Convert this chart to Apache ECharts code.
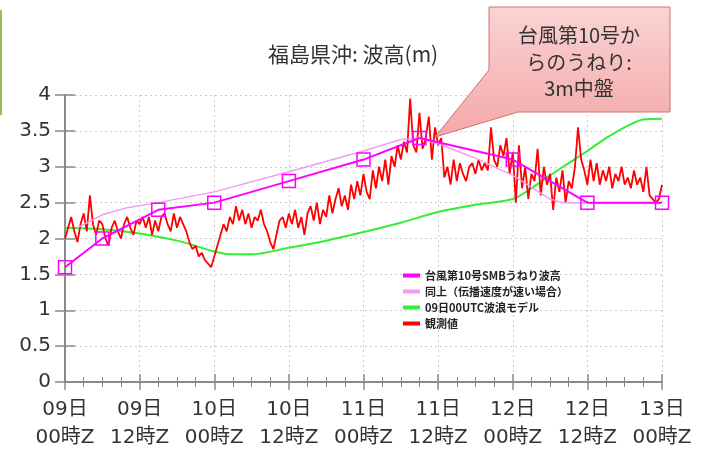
<!DOCTYPE html>
<html><head><meta charset="utf-8">
<script src="https://cdn.jsdelivr.net/npm/echarts@6/dist/echarts.min.js"></script>
<style>html,body{margin:0;padding:0;background:#fff}#c{width:701px;height:462px}</style>
</head><body><div id="c"></div>
<script>
// ---- data (hours since 09日00時Z) ----
const xTickLabels = ['09日\n00時Z','09日\n12時Z','10日\n00時Z','10日\n12時Z','11日\n00時Z','11日\n12時Z','12日\n00時Z','12日\n12時Z','13日\n00時Z'];
const smbHours  = [0, 6, 15, 24, 36, 48, 57, 72, 84, 96];
const smbValues = [1.6, 2.0, 2.4, 2.5, 2.8, 3.1, 3.4, 3.1, 2.5, 2.5];
const fastHours  = [2, 6, 10, 15, 24, 36, 48, 54, 57, 60, 66, 72, 78, 80, 96];
const fastValues = [2.15, 2.33, 2.43, 2.5, 2.65, 2.93, 3.22, 3.38, 3.4, 3.32, 3.12, 2.88, 2.55, 2.5, 2.5];
const modelHours  = [0, 6, 12, 18, 24, 27, 30, 36, 42, 48, 54, 60, 66, 72, 75, 78, 81, 84, 87, 90, 93, 96];
const modelValues = [2.15, 2.13, 2.07, 1.97, 1.82, 1.78, 1.78, 1.87, 1.97, 2.09, 2.22, 2.37, 2.47, 2.55, 2.7, 2.88, 3.05, 3.22, 3.4, 3.55, 3.66, 3.67];
// observed, every 0.5 h from 0 to 96 h
const obsValues = [
  2.0,2.15,2.3,2.1,1.95,2.2,2.35,2.1,2.6,2.2,2.05,2.25,2.2,2.0,1.9,2.15,2.25,2.1,2.0,2.2,2.3,2.15,2.05,2.25,2.2,
  2.3,2.15,2.3,2.05,2.25,2.1,2.3,2.35,2.2,2.1,2.35,2.15,2.3,2.2,2.1,1.95,1.85,1.9,1.75,1.8,1.7,1.65,1.6,1.75,
  1.9,2.05,2.2,2.1,2.3,2.2,2.45,2.25,2.4,2.2,2.35,2.15,2.3,2.25,2.4,2.2,2.1,1.95,1.85,2.05,2.25,2.3,2.15,2.35,
  2.2,2.4,2.15,2.3,2.05,2.35,2.45,2.25,2.5,2.2,2.4,2.3,2.6,2.35,2.55,2.7,2.45,2.6,2.4,2.75,2.55,2.8,2.6,2.9,
  2.65,2.55,2.95,2.7,3.0,2.8,3.1,2.75,3.15,3.0,3.3,3.1,3.35,3.2,3.95,3.3,3.2,3.75,3.25,3.4,3.7,3.1,3.55,3.3,
  3.4,2.85,3.0,2.75,3.1,2.8,3.05,2.9,2.8,3.0,3.05,2.9,3.1,2.95,3.05,2.95,3.55,3.1,3.0,3.3,3.15,3.4,2.9,3.2,
  2.5,3.3,2.7,3.0,2.55,2.9,2.8,3.25,2.6,3.0,2.75,2.9,2.4,2.85,2.65,2.95,2.5,2.8,2.7,3.0,3.55,3.1,2.95,2.75,
  3.1,2.8,3.05,2.75,2.95,2.8,3.0,2.7,2.9,2.8,3.0,2.75,2.85,2.7,2.95,2.75,2.85,2.65,3.0,2.6,2.55,2.5,2.55,2.75];
const obsHours = obsValues.map((v,i)=>i*0.5);
const legendNames = ['台風第10号SMBうねり波高','同上（伝播速度が速い場合）','09日00UTC波浪モデル','観測値'];
const legendColors = ['#ff00ff','#f09cf0','#33ee33','#ff0000'];
const titleText = '福島県沖: 波高(m)';
const calloutLines = ['台風第10号か','らのうねり:','3m中盤'];

const zip = (a,b)=>a.map((x,i)=>[x,b[i]]);
const chart = echarts.init(document.getElementById('c'));
const axisGray = '#8a8a8a';
const fontNum = '"DejaVu Sans","Noto Sans CJK JP",sans-serif';
const cjk = '"Noto Sans CJK JP",sans-serif';
chart.setOption({
  animation:false,
  title:{text:titleText,left:263,top:39,textStyle:{fontSize:21,fontWeight:'normal',color:'#333',fontFamily:cjk}},
  grid:{left:65,right:39,top:95,bottom:80},
  legend:{orient:'vertical',left:398,top:265,itemWidth:17,itemHeight:4,itemGap:5,icon:'rect',
    data:legendNames.map((n,i)=>({name:n,itemStyle:{color:legendColors[i],borderWidth:0}})),
    textStyle:{fontSize:11,color:'#222',fontWeight:'bold',fontFamily:cjk}},
  xAxis:[{type:'value',min:0,max:96,interval:12,position:'bottom',
    axisLine:{lineStyle:{color:axisGray,width:2}},
    axisTick:{inside:true,length:8,lineStyle:{color:axisGray,width:1.5}},
    minorTick:{show:true,splitNumber:4,length:5,lineStyle:{color:axisGray}},
    splitLine:{show:true,lineStyle:{color:'#ccc',type:[2,3]}},
    axisLabel:{margin:14,fontSize:20,lineHeight:28,color:'#333',fontFamily:fontNum,
      formatter:(v)=>xTickLabels[Math.round(v/12)]}},
   {type:'value',min:0,max:96,interval:12,position:'top',
    axisLine:{lineStyle:{color:axisGray,width:2}},
    axisTick:{inside:true,length:8,lineStyle:{color:axisGray,width:1.5}},
    minorTick:{show:true,splitNumber:4,length:5,lineStyle:{color:axisGray}},
    splitLine:{show:false},axisLabel:{show:false}}],
  yAxis:[{type:'value',min:0,max:4,interval:0.5,position:'left',
    axisLine:{show:true,lineStyle:{color:axisGray,width:2}},
    axisTick:{show:true,inside:true,length:10,lineStyle:{color:axisGray,width:1.5}},
    splitLine:{show:true,lineStyle:{color:'#ccc',type:[2,3]}},
    axisLabel:{margin:14,fontSize:20,color:'#333',fontFamily:fontNum}},
   {type:'value',min:0,max:4,interval:0.5,position:'right',
    axisLine:{show:true,lineStyle:{color:axisGray,width:2}},
    axisTick:{show:true,inside:true,length:10,lineStyle:{color:axisGray,width:1.5}},
    splitLine:{show:false},axisLabel:{show:false}}],
  series:[
    {name:legendNames[2],type:'line',data:zip(modelHours,modelValues),smooth:0.3,symbol:'none',
      lineStyle:{color:legendColors[2],width:2},itemStyle:{color:legendColors[2]},z:2},
    {name:legendNames[3],type:'line',data:zip(obsHours,obsValues),symbol:'none',
      lineStyle:{color:legendColors[3],width:1.8},itemStyle:{color:legendColors[3]},z:3},
    {name:legendNames[1],type:'line',data:zip(fastHours,fastValues),symbol:'none',
      lineStyle:{color:legendColors[1],width:1.5},itemStyle:{color:legendColors[1]},z:4},
    {name:legendNames[0],type:'line',data:zip(smbHours,smbValues),symbol:'rect',symbolSize:13,
      lineStyle:{color:legendColors[0],width:2},itemStyle:{color:'rgba(255,255,255,0)',borderColor:legendColors[0],borderWidth:1.5},z:5}
  ],
  graphic:[
    {type:'rect',left:0,top:10,shape:{width:2,height:105},style:{fill:'#9bbb59'},z:100},
    {type:'polygon',z:100,shape:{points:[[489,7],[670,7],[670,112],[518,112],[435,137],[489,70]]},
      style:{stroke:'#d27070',lineWidth:1,fill:new echarts.graphic.LinearGradient(0,0,0,1,[{offset:0,color:'#fbd3d3'},{offset:1,color:'#f3a8a8'}])}},
    {type:'text',z:101,x:579,y:35,style:{text:calloutLines[0],fill:'#333',fontSize:20,align:'center',verticalAlign:'middle',fontFamily:cjk}},
    {type:'text',z:101,x:579,y:62,style:{text:calloutLines[1],fill:'#333',fontSize:20,align:'center',verticalAlign:'middle',fontFamily:cjk}},
    {type:'text',z:101,x:579,y:88,style:{text:calloutLines[2],fill:'#333',fontSize:20,align:'center',verticalAlign:'middle',fontFamily:cjk}}
  ]
});
</script></body></html>
